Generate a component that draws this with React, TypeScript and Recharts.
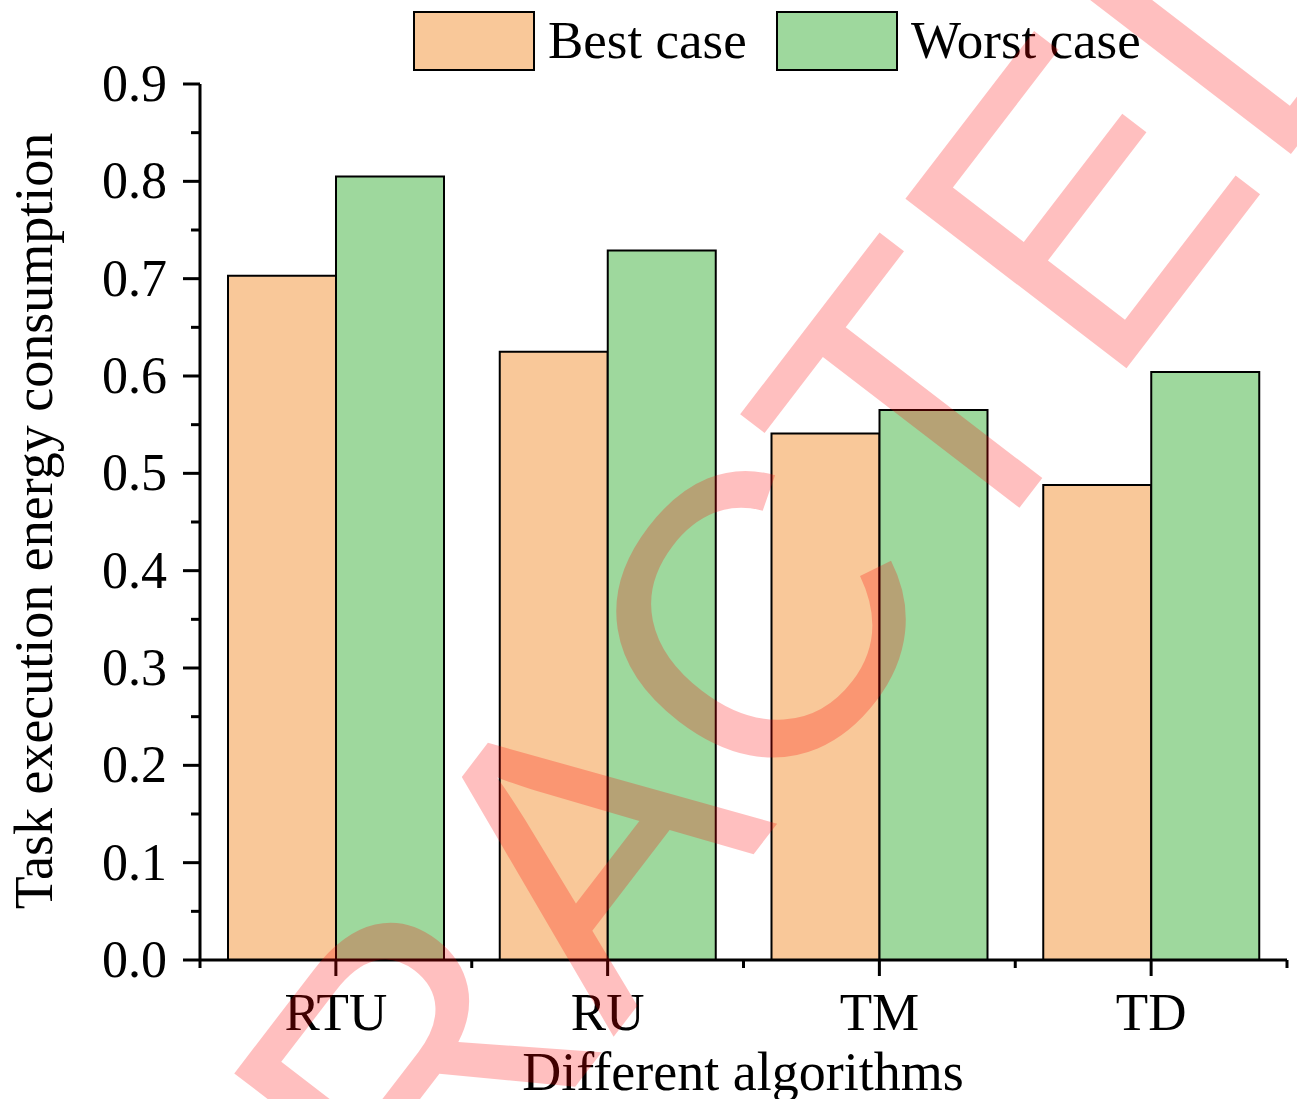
import React from 'react';
import { Bar, BarChart, Legend, XAxis, YAxis } from 'recharts';

// values
const algorithms = ['RTU', 'RU', 'TM', 'TD'];
const bestCase = [0.703, 0.625, 0.541, 0.488];
const worstCase = [0.805, 0.729, 0.565, 0.604];
const seriesNames = ['Best case', 'Worst case'];
const yTicks = [0, 0.05, 0.1, 0.15, 0.2, 0.25, 0.3, 0.35, 0.4, 0.45, 0.5, 0.55, 0.6, 0.65, 0.7, 0.75, 0.8, 0.85, 0.9];
const watermark = 'RETRACTED';

const W = 1297;
const H = 1099;
const PLOT_LEFT = 200;
const PLOT_RIGHT = 1287;
const SERIF = '"Liberation Serif", "Times New Roman", serif';

document.body.style.margin = '0';

const data = algorithms.map((name, i) => ({
  name,
  best: bestCase[i],
  worst: worstCase[i],
}));

const YTick = (props: any) => {
  const { x, y, payload } = props;
  const v = payload.value as number;
  const major = Math.abs(v * 10 - Math.round(v * 10)) < 1e-6;
  return (
    <g>
      <line x1={x - (major ? 17 : 9)} x2={x} y1={y} y2={y} stroke="#000" strokeWidth={3} />
      {major && (
        <text x={x - 33} y={y + 17} textAnchor="end" fontFamily={SERIF} fontSize={52} fill="#000">
          {v.toFixed(1)}
        </text>
      )}
    </g>
  );
};

const XTick = (props: any) => {
  const { x, y, payload, index } = props;
  const band = (PLOT_RIGHT - PLOT_LEFT) / algorithms.length;
  return (
    <g>
      <line x1={x} x2={x} y1={y} y2={y + 16} stroke="#000" strokeWidth={3} />
      <line x1={x - band / 2} x2={x - band / 2} y1={y} y2={y + 8} stroke="#000" strokeWidth={3} />
      {index === algorithms.length - 1 && (
        <line x1={x + band / 2} x2={x + band / 2} y1={y} y2={y + 8} stroke="#000" strokeWidth={3} />
      )}
      <text x={x} y={y + 70} textAnchor="middle" fontFamily={SERIF} fontSize={53} fill="#000">
        {payload.value}
      </text>
    </g>
  );
};

const YTitle = () => (
  <text
    x={52}
    y={521}
    transform="rotate(-90 52 521)"
    textAnchor="middle"
    fontFamily={SERIF}
    fontSize={54}
    fill="#000"
  >
    Task execution energy consumption
  </text>
);

const XTitle = () => (
  <text x={743} y={1090} textAnchor="middle" fontFamily={SERIF} fontSize={54} fill="#000">
    Different algorithms
  </text>
);

const LegendContent = (props: any) => {
  const payload = props.payload || [];
  const boxX = [414, 777];
  return (
    <div style={{ position: 'relative', height: 0 }}>
      <svg width={W} height={80} style={{ position: 'absolute', left: 0, top: 0, overflow: 'visible' }}>
        {payload.map((p: any, i: number) => (
          <g key={p.value}>
            <rect x={boxX[i]} y={12} width={120} height={58} fill={p.color} stroke="#000" strokeWidth={2} />
            <text x={boxX[i] + 134} y={58} fontFamily={SERIF} fontSize={53} fill="#000">
              {p.value}
            </text>
          </g>
        ))}
      </svg>
    </div>
  );
};

export default function App() {
  return (
    <div style={{ position: 'relative', width: W, height: H, background: '#fff' }}>
      <BarChart
        width={W}
        height={H}
        data={data}
        margin={{ top: 84, right: W - PLOT_RIGHT, bottom: 0, left: 0 }}
        barCategoryGap={28}
        barGap={0}
      >
        <XAxis
          dataKey="name"
          height={139}
          tickSize={0}
          tickMargin={0}
          tick={<XTick />}
          interval={0}
          axisLine={{ stroke: '#000', strokeWidth: 3 }}
          tickLine={false}
          label={<XTitle />}
        />
        <YAxis
          type="number"
          domain={[0, 0.9]}
          ticks={yTicks}
          interval={0}
          width={PLOT_LEFT}
          tickSize={0}
          tickMargin={0}
          tick={<YTick />}
          axisLine={{ stroke: '#000', strokeWidth: 3 }}
          tickLine={false}
          label={<YTitle />}
        />
        <Legend
          verticalAlign="top"
          content={<LegendContent />}
          wrapperStyle={{ left: 0, top: 0, width: W, height: 0 }}
        />
        <Bar dataKey="best" name={seriesNames[0]} fill="#F9C899" stroke="#000" strokeWidth={2} isAnimationActive={false} />
        <Bar dataKey="worst" name={seriesNames[1]} fill="#9ED89D" stroke="#000" strokeWidth={2} isAnimationActive={false} />
      </BarChart>
      <svg width={W} height={H} style={{ position: 'absolute', left: 0, top: 0, pointerEvents: 'none' }}>
        <text
          transform="translate(-58 1912) rotate(-52.5)"
          fontFamily='"Liberation Sans", Arial, sans-serif'
          fontSize={405}
          fill="#ff0000"
          fillOpacity={0.25}
        >
          {watermark}
        </text>
      </svg>
    </div>
  );
}
